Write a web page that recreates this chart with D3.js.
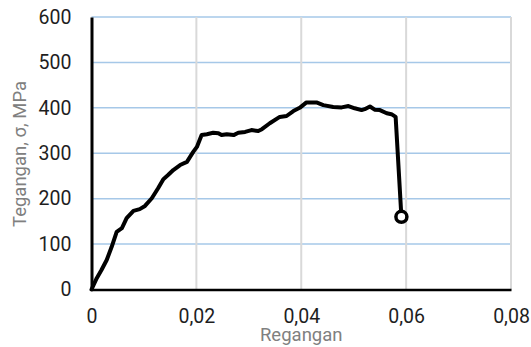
<!DOCTYPE html>
<html>
<head>
<meta charset="utf-8">
<script src="https://cdn.jsdelivr.net/npm/d3@7"></script>
<style>
  html, body { margin: 0; padding: 0; background: #fff; }
  svg { display: block; }
  text { font-family: Roboto, "Liberation Sans", Arial, sans-serif; }
</style>
</head>
<body>
<svg id="chart" width="531" height="347"></svg>
<script>
// Stress–strain curve: strain (regangan) and stress (tegangan, MPa)
const strain = [0, 0.0002, 0.001, 0.0019, 0.0029, 0.00385, 0.0048, 0.0058, 0.0067, 0.008, 0.0092, 0.0102,
  0.0115, 0.0127, 0.0137, 0.0146, 0.0156, 0.0169, 0.0182, 0.0194, 0.0201, 0.021, 0.022, 0.0232, 0.0242,
  0.0248, 0.0258, 0.0271, 0.028, 0.0293, 0.0305, 0.0318, 0.0325, 0.034, 0.0359, 0.0372, 0.0385, 0.0397,
  0.041, 0.0429, 0.0442, 0.0461, 0.0477, 0.049, 0.0502, 0.0515, 0.0521, 0.0531, 0.054, 0.055, 0.0563,
  0.0572, 0.058, 0.0591];
const stress = [0, 5, 25, 43, 65, 94, 127, 135, 157, 173, 177, 184,
  201, 223, 243, 252, 263, 274, 281, 303, 314, 340, 342, 345, 344,
  340, 342, 340, 345, 347, 351, 349, 353, 366, 380, 382, 393, 400,
  412, 412, 406, 402, 401, 404, 399, 395, 397, 403, 396, 395, 388,
  386, 380, 160];

const xTicks = [0, 0.02, 0.04, 0.06, 0.08];
const xTickLabels = ["0", "0,02", "0,04", "0,06", "0,08"];
const yTicks = [0, 100, 200, 300, 400, 500, 600];
const xTitle = "Regangan";
const yTitle = "Tegangan, σ, MPa";

const plotLeft = 91.5, plotRight = 511, plotTop = 17, plotBottom = 289.5;

const svg = d3.select("#chart");
const x = d3.scaleLinear().domain([0, 0.08]).range([plotLeft, plotRight]);
const y = d3.scaleLinear().domain([0, 600]).range([plotBottom, plotTop]);

// horizontal gridlines
svg.append("g")
  .selectAll("line")
  .data(yTicks.filter(d => d > 0))
  .join("line")
  .attr("x1", plotLeft).attr("x2", plotRight)
  .attr("y1", d => y(d)).attr("y2", d => y(d))
  .attr("stroke", "#a6c8e8").attr("stroke-width", 1.5);

// vertical gridlines
svg.append("g")
  .selectAll("line")
  .data(xTicks.filter(d => d > 0))
  .join("line")
  .attr("x1", d => x(d)).attr("x2", d => x(d))
  .attr("y1", plotTop).attr("y2", plotBottom)
  .attr("stroke", "#d9d9d9").attr("stroke-width", 2);

// axes
const xAxis = svg.append("g")
  .attr("transform", `translate(0,${plotBottom})`)
  .call(d3.axisBottom(x).tickValues(xTicks).tickFormat((d, i) => xTickLabels[i]).tickSize(0).tickPadding(20));
xAxis.select(".domain").attr("stroke", "#000").attr("stroke-width", 2.5);
xAxis.selectAll("text").attr("font-size", 19.5).attr("fill", "#1e1e1e")
  .attr("font-family", "Roboto, sans-serif");

const yAxis = svg.append("g")
  .attr("transform", `translate(${plotLeft},0)`)
  .call(d3.axisLeft(y).tickValues(yTicks).tickSize(0).tickPadding(20));
yAxis.select(".domain").attr("stroke", "#000").attr("stroke-width", 3);
yAxis.selectAll("text").attr("font-size", 19.5).attr("fill", "#1e1e1e")
  .attr("font-family", "Roboto, sans-serif");

// axis titles
svg.append("text")
  .attr("x", (plotLeft + plotRight) / 2).attr("y", 341)
  .attr("text-anchor", "middle")
  .attr("font-size", 18.5).attr("fill", "#808080")
  .text(xTitle);

svg.append("text")
  .attr("transform", `translate(26,154) rotate(-90)`)
  .attr("text-anchor", "middle")
  .attr("font-size", 18.5).attr("fill", "#808080")
  .text(yTitle);

// curve
const pts = strain.map((s, i) => [s, stress[i]]);
svg.append("path")
  .datum(pts)
  .attr("fill", "none")
  .attr("stroke", "#000")
  .attr("stroke-width", 4)
  .attr("stroke-linejoin", "round")
  .attr("stroke-linecap", "round")
  .attr("d", d3.line().x(d => x(d[0])).y(d => y(d[1])));

// fracture point marker
const last = pts[pts.length - 1];
svg.append("circle")
  .attr("cx", x(last[0])).attr("cy", y(last[1]))
  .attr("r", 5.5)
  .attr("fill", "#fff").attr("stroke", "#000").attr("stroke-width", 3.5);
</script>
</body>
</html>
